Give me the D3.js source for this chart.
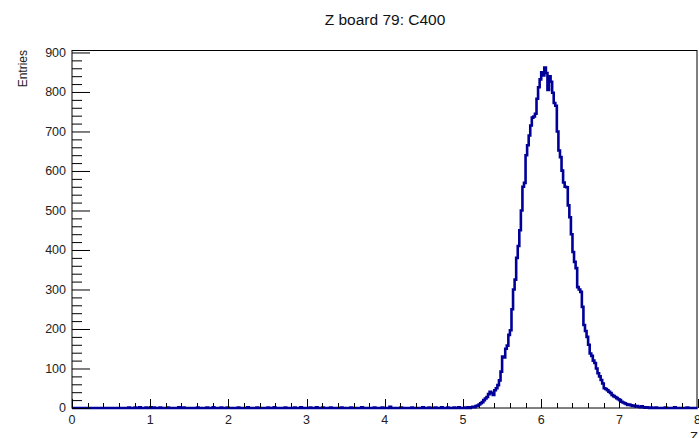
<!DOCTYPE html>
<html>
<head>
<meta charset="utf-8">
<script src="https://cdn.jsdelivr.net/npm/d3@7"></script>
<style>
  body { margin: 0; background: #fff; }
  svg { display: block; font-family: "Liberation Sans", Arial, sans-serif; }
</style>
</head>
<body>
<svg width="699" height="438"></svg>
<script>
(function () {
  'use strict';

  // histogram: 400 bins from 0 to 8 (width 0.02)
  const binWidth = 0.02;
  const nBins = 400;
  const peakStart = 5.10;   // first bin of peakCounts
  const peakCounts = [
    2, 3, 2, 5, 6, 9, 12, 15, 20, 24,
    28, 35, 41, 38, 33, 45, 50, 58, 70, 92,
    130, 128, 150, 158, 185, 197, 250, 300, 325, 380,
    410, 450, 500, 560, 570, 640, 665, 690, 715, 735,
    738, 745, 783, 812, 832, 850, 842, 862, 848, 805,
    840, 826, 798, 772, 765, 700, 652, 635, 601, 571,
    560, 559, 513, 483, 440, 395, 370, 354, 306, 300,
    294, 256, 210, 195, 180, 160, 138, 132, 120, 114,
    100, 88, 80, 71, 62, 50, 48, 45, 41, 38,
    33, 30, 28, 25, 22, 20, 16, 14, 12, 10,
    8, 9, 7, 5, 6, 4, 5, 3, 2, 4,
    2, 1, 2, 1, 0, 1
  ];
  // scattered low entries outside the peak: [x, count]
  const lowHits = [
    [0.72, 1], [0.80, 1], [0.86, 2], [0.94, 1], [1.00, 2], [1.04, 1], [1.12, 1],
    [1.22, 1], [1.36, 2], [1.42, 1], [1.60, 1], [1.72, 1], [1.80, 2], [1.90, 1],
    [1.98, 1], [2.12, 1], [2.24, 2], [2.36, 1], [2.50, 1], [2.58, 2], [2.72, 1],
    [2.84, 1], [2.92, 2], [3.04, 1], [3.12, 2], [3.20, 1], [3.30, 1], [3.44, 1],
    [3.56, 1], [3.70, 2], [3.86, 1], [3.96, 1], [4.06, 3], [4.20, 1], [4.34, 1],
    [4.48, 2], [4.56, 1], [4.64, 1], [4.72, 2], [4.80, 1], [4.88, 1], [4.94, 2],
    [5.02, 1], [5.06, 2], [7.46, 1], [7.58, 1], [7.70, 2], [7.86, 1]
  ];
  const xTicks = [0, 1, 2, 3, 4, 5, 6, 7, 8];
  const yTicks = [0, 100, 200, 300, 400, 500, 600, 700, 800, 900];

  const counts = new Array(nBins).fill(0);
  const p0 = Math.round(peakStart / binWidth);
  peakCounts.forEach((c, i) => { counts[p0 + i] = c; });
  lowHits.forEach(h => { counts[Math.round(h[0] / binWidth)] = h[1]; });

  const svg = d3.select('svg');
  const x = d3.scaleLinear().domain([0, 8]).range([72, 697.6]);
  const y = d3.scaleLinear().domain([0, 905]).range([408, 50.5]);

  // frame
  svg.append('rect')
    .attr('x', 72).attr('y', 50.5)
    .attr('width', 625).attr('height', 357.5)
    .attr('fill', 'none').attr('stroke', '#000').attr('stroke-width', 1);

  // histogram
  const pts = counts.map((c, i) => [i * binWidth, c]);
  pts.push([8, counts[nBins - 1]]);
  const line = d3.line()
    .x(d => x(d[0])).y(d => y(d[1]))
    .curve(d3.curveStepAfter);
  svg.append('path')
    .datum(pts)
    .attr('d', line)
    .attr('fill', 'none')
    .attr('stroke', '#000099')
    .attr('stroke-width', 2.6)
    .attr('stroke-linejoin', 'miter');

  // y axis ticks (major every 100, minor every 20)
  const yMinor = d3.range(0, 901, 20);
  svg.append('g').selectAll('line').data(yMinor).enter().append('line')
    .attr('x1', 72).attr('x2', d => d % 100 === 0 ? 90 : 82)
    .attr('y1', d => y(d) + 0.5).attr('y2', d => y(d) + 0.5)
    .attr('stroke', '#000').attr('stroke-width', 1);
  svg.append('g').selectAll('text').data(yTicks).enter().append('text')
    .attr('x', 66).attr('y', d => y(d))
    .attr('dy', '0.35em')
    .attr('text-anchor', 'end')
    .attr('font-size', 12.5)
    .attr('fill', '#222')
    .text(d => d);

  // x axis ticks (major every 1, minor every 0.2)
  const xMinor = d3.range(0, 41).map(d => d / 5);
  svg.append('g').selectAll('line').data(xMinor).enter().append('line')
    .attr('x1', d => Math.round(x(d)) + 0.5).attr('x2', d => Math.round(x(d)) + 0.5)
    .attr('y1', 408).attr('y2', (d, i) => i % 5 === 0 ? 399 : 403)
    .attr('stroke', '#000').attr('stroke-width', 1);
  svg.append('g').selectAll('text').data(xTicks).enter().append('text')
    .attr('x', d => x(d)).attr('y', 424)
    .attr('text-anchor', 'middle')
    .attr('font-size', 12.5)
    .attr('fill', '#222')
    .text(d => d);

  // titles
  svg.append('text')
    .attr('x', 385).attr('y', 25)
    .attr('text-anchor', 'middle')
    .attr('font-size', 15.5)
    .attr('fill', '#111')
    .text('Z board 79: C400');
  svg.append('text')
    .attr('transform', 'translate(27,50) rotate(-90)')
    .attr('text-anchor', 'end')
    .attr('font-size', 12)
    .attr('fill', '#222')
    .text('Entries');
  svg.append('text')
    .attr('x', 698).attr('y', 441)
    .attr('text-anchor', 'end')
    .attr('font-size', 13)
    .attr('fill', '#222')
    .text('Z');
}());
</script>
</body>
</html>
